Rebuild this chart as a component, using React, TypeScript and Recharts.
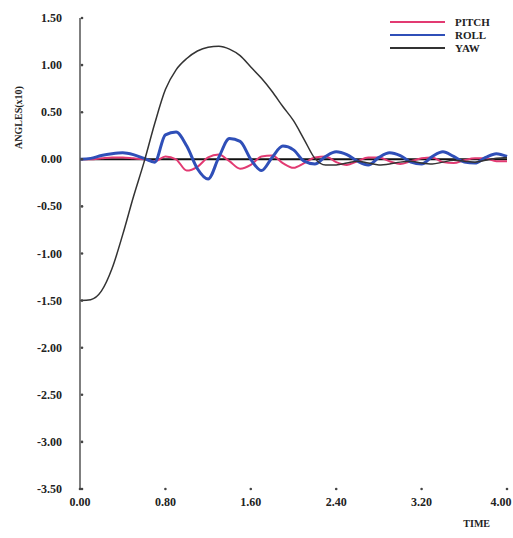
import { LineChart, Line, XAxis, YAxis, ReferenceLine, Label } from "recharts"

const TIME = [
  0, 0.1, 0.2, 0.3, 0.4, 0.5, 0.6, 0.7, 0.8, 0.9, 1.0, 1.1, 1.2, 1.3, 1.4, 1.5, 1.6, 1.7, 1.8, 1.9, 2.0,
  2.1, 2.2, 2.3, 2.4, 2.5, 2.6, 2.7, 2.8, 2.9, 3.0, 3.1, 3.2, 3.3, 3.4, 3.5, 3.6, 3.7, 3.8, 3.9, 4.0,
]

const PITCH = [
  0, 0, 0.01, 0.02, 0.02, 0.01, 0, -0.02, 0.03, 0.0, -0.12, -0.08, 0.02, 0.05, -0.02, -0.1, -0.06, 0.03, 0.04, -0.04, -0.09,
  -0.04, 0.02, 0.03, -0.03, -0.06, -0.02, 0.02, 0.02, -0.02, -0.05, -0.02, 0.01, 0.02, -0.03, -0.04, -0.01, 0.01, 0.01, -0.02, -0.02,
]

const ROLL = [
  0, 0.01, 0.04, 0.06, 0.07, 0.05, 0.01, -0.03, 0.26, 0.29, 0.14, -0.1, -0.21, 0.02, 0.22, 0.19, 0.0, -0.12, 0.02, 0.14, 0.1,
  -0.02, -0.05, 0.03, 0.08, 0.05, -0.02, -0.06, 0.02, 0.07, 0.04, -0.03, -0.05, 0.03, 0.08, 0.03, -0.03, -0.04, 0.02, 0.06, 0.03,
]

const YAW = [
  -1.5, -1.49, -1.4, -1.16, -0.8, -0.4, -0.03, 0.38, 0.74, 0.95, 1.07, 1.15, 1.19, 1.2, 1.17, 1.1, 0.98, 0.86, 0.72, 0.56, 0.41,
  0.21, 0.01, -0.06, -0.06, -0.04, -0.02, -0.04, -0.06, -0.05, -0.03, -0.02, -0.04, -0.05, -0.03, -0.01, -0.02, -0.03, -0.01, 0.01, 0.02,
]

const X_TICKS = [0, 0.8, 1.6, 2.4, 3.2, 4.0]
const Y_TICKS = [1.5, 1.0, 0.5, 0, -0.5, -1.0, -1.5, -2.0, -2.5, -3.0, -3.5]

const SERIES = [
  { key: "pitch", name: "PITCH", color: "#e23a72", width: 2 },
  { key: "roll", name: "ROLL", color: "#2f4fb8", width: 3 },
  { key: "yaw", name: "YAW", color: "#333333", width: 1.5 },
]

const data = TIME.map((t, i) => ({ t, pitch: PITCH[i], roll: ROLL[i], yaw: YAW[i] }))

const FONT = "'Liberation Serif', 'DejaVu Serif', serif"

const YTick = ({ x, y, payload }: any) => (
  <g>
    <circle cx={x + 20} cy={y} r={1.3} fill="#444" />
    <text x={x} y={y} dy={4} textAnchor="end" fontFamily={FONT} fontWeight="bold" fontSize={12} fill="#222">
      {payload.value.toFixed(2)}
    </text>
  </g>
)

const XTick = ({ x, y, payload }: any) => (
  <g>
    <circle cx={x} cy={y - 8} r={1.3} fill="#444" />
    <text
      x={payload.value === 4 ? x - 6 : x}
      y={y}
      dy={9}
      textAnchor="middle"
      fontFamily={FONT}
      fontWeight="bold"
      fontSize={12}
      fill="#222"
    >
      {payload.value.toFixed(2)}
    </text>
  </g>
)

// legend drawn on its own so it takes no room from the plot
const LegendBox = () => (
  <svg width={125} height={45} style={{ position: "absolute", left: 385, top: 15 }}>
    {SERIES.map((s, i) => (
      <g key={s.key}>
        <line x1={5} x2={60} y1={7 + i * 13} y2={7 + i * 13} stroke={s.color} strokeWidth={2} />
        <text x={70} y={11 + i * 13} fontFamily={FONT} fontWeight="bold" fontSize={11} fill="#222">
          {s.name}
        </text>
      </g>
    ))}
  </svg>
)

export default function App() {
  return (
    <div style={{ position: "absolute", left: 0, top: 0, width: 513, height: 538, background: "#fff" }}>
      <LineChart width={513} height={538} data={data} margin={{ top: 18, right: 6, bottom: 19, left: 0 }}>
        <XAxis
          dataKey="t"
          type="number"
          domain={[0, 4]}
          ticks={X_TICKS}
          axisLine={false}
          tickLine={false}
          tickSize={0}
          tickMargin={8}
          tick={<XTick />}
          interval={0}
          height={30}
        >
          <Label
            value="TIME"
            position="insideBottomRight"
            offset={0}
            dx={-17}
            dy={8}
            style={{ fontFamily: FONT, fontWeight: "bold", fontSize: 10, fill: "#222" }}
          />
        </XAxis>
        <YAxis
          type="number"
          domain={[-3.5, 1.5]}
          ticks={Y_TICKS}
          width={80}
          axisLine={{ stroke: "#555", strokeWidth: 1.5 }}
          tickLine={false}
          tickSize={0}
          tickMargin={18}
          tick={<YTick />}
          interval={0}
        >
          <Label
            value="ANGLES(x10)"
            angle={-90}
            position="insideLeft"
            offset={0}
            dx={18}
            dy={-136}
            style={{ fontFamily: FONT, fontWeight: "bold", fontSize: 10, fill: "#222", textAnchor: "middle" }}
          />
        </YAxis>
        <ReferenceLine y={0} stroke="#111" strokeWidth={2} />
        {SERIES.map((s) => (
          <Line
            key={s.key}
            type="monotone"
            dataKey={s.key}
            name={s.name}
            stroke={s.color}
            strokeWidth={s.width}
            dot={false}
            isAnimationActive={false}
          />
        ))}
      </LineChart>
      <LegendBox />
    </div>
  )
}
